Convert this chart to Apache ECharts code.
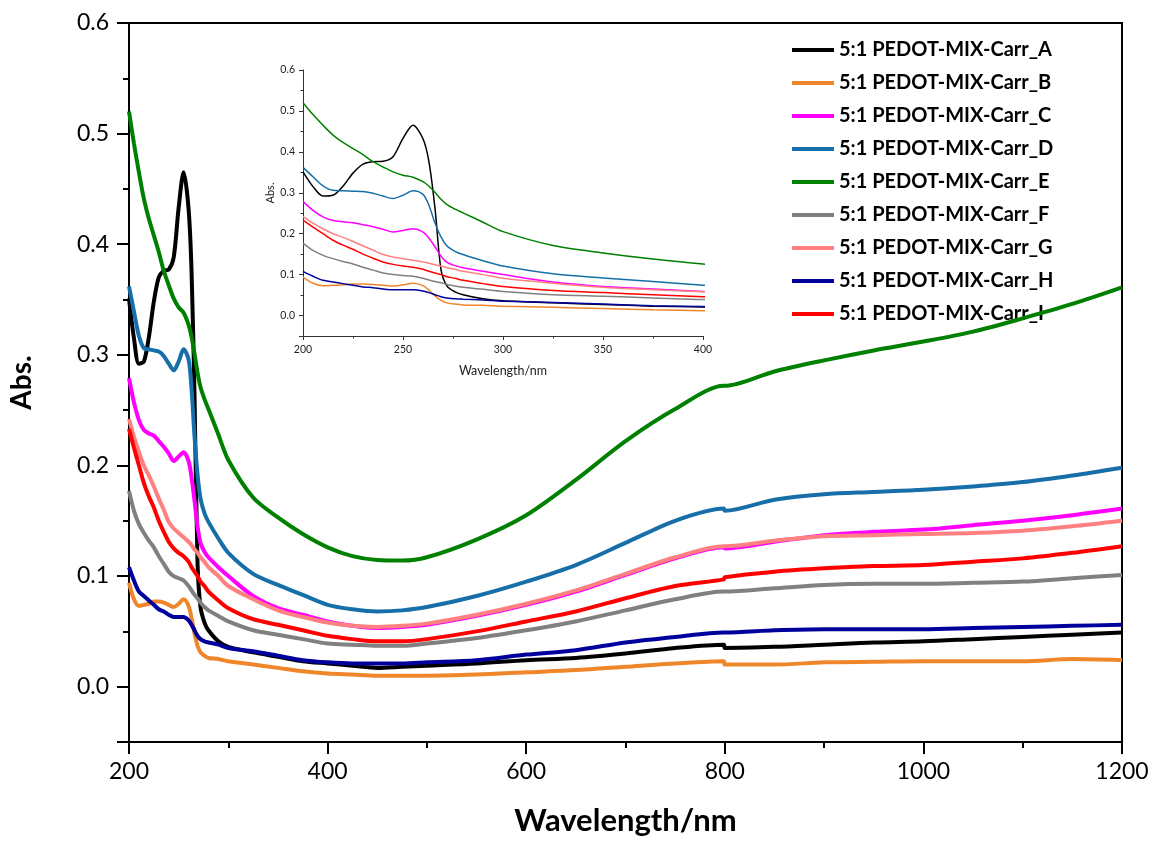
<!DOCTYPE html>
<html>
<head>
<meta charset="utf-8">
<script src="https://cdn.jsdelivr.net/npm/echarts@6/dist/echarts.min.js"></script>
<style>
html,body{margin:0;padding:0;background:#fff;}
#chart{width:1154px;height:841px;}
</style>
</head>
<body>
<div id="chart"></div>
<script>
// Wavelength grid (nm)
const wavelengths = [200,205,210,215,220,225,230,235,240,245,250,255,260,263,266,269,272,276,280,290,300,325,350,375,400,425,450,475,500,550,600,650,700,750,799,800,850,900,950,1000,1050,1100,1150,1200];

// Absorbance values per sample
const absA = [0.351,0.315,0.292,0.294,0.316,0.348,0.370,0.376,0.377,0.388,0.433,0.465,0.432,0.375,0.262,0.112,0.072,0.058,0.051,0.041,0.036,0.031,0.027,0.023,0.021,0.019,0.017,0.018,0.019,0.021,0.024,0.026,0.030,0.035,0.038,0.035,0.036,0.038,0.040,0.041,0.043,0.045,0.047,0.049];
const absB = [0.094,0.079,0.073,0.074,0.075,0.077,0.077,0.076,0.074,0.072,0.075,0.079,0.073,0.062,0.048,0.037,0.031,0.028,0.026,0.025,0.023,0.020,0.017,0.014,0.012,0.011,0.010,0.010,0.010,0.011,0.013,0.015,0.018,0.021,0.023,0.020,0.020,0.022,0.0225,0.023,0.023,0.023,0.025,0.024];
const absC = [0.279,0.257,0.241,0.232,0.229,0.227,0.222,0.217,0.211,0.204,0.208,0.212,0.204,0.189,0.168,0.145,0.130,0.122,0.117,0.108,0.100,0.082,0.071,0.065,0.059,0.055,0.053,0.054,0.056,0.064,0.074,0.086,0.101,0.116,0.126,0.125,0.131,0.137,0.140,0.142,0.146,0.150,0.155,0.161];
const absD = [0.362,0.339,0.317,0.306,0.305,0.304,0.303,0.299,0.292,0.286,0.294,0.305,0.296,0.269,0.226,0.192,0.170,0.157,0.149,0.134,0.121,0.102,0.092,0.083,0.074,0.070,0.068,0.069,0.072,0.082,0.095,0.110,0.130,0.150,0.161,0.159,0.169,0.174,0.176,0.178,0.181,0.185,0.191,0.198];
const absE = [0.520,0.491,0.465,0.441,0.423,0.408,0.393,0.376,0.363,0.351,0.343,0.338,0.327,0.316,0.301,0.284,0.271,0.260,0.251,0.228,0.205,0.171,0.153,0.138,0.126,0.118,0.1145,0.114,0.117,0.133,0.155,0.187,0.222,0.251,0.272,0.272,0.285,0.295,0.304,0.312,0.321,0.333,0.346,0.361];
const absF = [0.177,0.159,0.147,0.139,0.132,0.126,0.118,0.111,0.104,0.100,0.098,0.096,0.091,0.087,0.083,0.080,0.076,0.072,0.069,0.064,0.059,0.051,0.047,0.043,0.039,0.038,0.037,0.037,0.039,0.044,0.051,0.059,0.069,0.079,0.086,0.086,0.089,0.092,0.093,0.093,0.094,0.095,0.098,0.101];
const absG = [0.242,0.226,0.212,0.200,0.191,0.181,0.170,0.160,0.149,0.143,0.139,0.135,0.131,0.128,0.124,0.121,0.117,0.113,0.108,0.100,0.091,0.079,0.069,0.063,0.058,0.055,0.054,0.055,0.057,0.065,0.075,0.087,0.102,0.117,0.127,0.127,0.132,0.136,0.137,0.138,0.139,0.141,0.145,0.150];
const absH = [0.108,0.096,0.086,0.082,0.078,0.074,0.070,0.068,0.065,0.063,0.063,0.063,0.060,0.056,0.051,0.046,0.043,0.041,0.040,0.038,0.035,0.032,0.028,0.024,0.022,0.021,0.021,0.021,0.022,0.024,0.029,0.033,0.040,0.045,0.049,0.049,0.051,0.052,0.052,0.052,0.053,0.054,0.055,0.056];
const absI = [0.233,0.216,0.200,0.184,0.172,0.162,0.150,0.140,0.131,0.125,0.121,0.118,0.113,0.108,0.104,0.100,0.095,0.091,0.086,0.078,0.071,0.061,0.056,0.051,0.046,0.043,0.041,0.041,0.043,0.050,0.059,0.068,0.080,0.091,0.097,0.099,0.104,0.107,0.109,0.110,0.113,0.116,0.121,0.127];

const seriesNames = ['5:1 PEDOT-MIX-Carr_A','5:1 PEDOT-MIX-Carr_B','5:1 PEDOT-MIX-Carr_C','5:1 PEDOT-MIX-Carr_D','5:1 PEDOT-MIX-Carr_E','5:1 PEDOT-MIX-Carr_F','5:1 PEDOT-MIX-Carr_G','5:1 PEDOT-MIX-Carr_H','5:1 PEDOT-MIX-Carr_I'];
const seriesValues = [absA,absB,absC,absD,absE,absF,absG,absH,absI];
const seriesColors = ['#000000','#F0862A','#FF00FF','#176FA9','#008000','#808080','#FF8080','#00009C','#FF0000'];

const FONT = 'Lato, "Open Sans", sans-serif';
const toPairs = vals => wavelengths.map((w,i)=>[w, vals[i]]);

const series = [];
seriesNames.forEach((n,i)=>{
  series.push({name:n,type:'line',xAxisIndex:0,yAxisIndex:0,data:toPairs(seriesValues[i]),
    showSymbol:false,smooth:0.3,lineStyle:{width:4,color:seriesColors[i]},itemStyle:{color:seriesColors[i]},z:2+i});
});
seriesNames.forEach((n,i)=>{
  series.push({name:n,type:'line',xAxisIndex:1,yAxisIndex:1,data:toPairs(seriesValues[i]),
    showSymbol:false,smooth:0.3,clip:true,lineStyle:{width:1.5,color:seriesColors[i]},itemStyle:{color:seriesColors[i]},z:2+i});
});

const plain = v => String(v);
const yFmt = v => (v < -0.001 ? '' : v.toFixed(1));

const chart = echarts.init(document.getElementById('chart'), null, {renderer:'canvas'});
chart.setOption({
  animation:false,
  backgroundColor:'#fff',
  textStyle:{fontFamily:FONT},
  grid:[
    {left:129,top:23,width:993,height:722,show:true,borderColor:'#000',borderWidth:2,backgroundColor:'transparent'},
    {left:303,top:70,width:400,height:266}
  ],
  legend:{
    orient:'vertical',left:787,top:35,icon:'rect',itemWidth:42,itemHeight:4,itemGap:13,
    data:seriesNames,
    textStyle:{fontSize:20,fontWeight:'bold',fontFamily:FONT,color:'#000'}
  },
  xAxis:[
    {type:'value',gridIndex:0,min:200,max:1200,interval:200,
     axisLine:{onZero:false,lineStyle:{color:'#000',width:2}},
     axisTick:{length:12,lineStyle:{color:'#000',width:2}},
     minorTick:{show:true,splitNumber:2,length:6,lineStyle:{color:'#000',width:2}},
     splitLine:{show:false},minorSplitLine:{show:false},
     axisLabel:{formatter:plain,fontSize:23,fontFamily:FONT,color:'#000',margin:18},
     name:'Wavelength/nm',nameLocation:'middle',nameGap:63,
     nameTextStyle:{fontSize:31,fontWeight:'bold',fontFamily:FONT,color:'#000'}},
    {type:'value',gridIndex:1,min:200,max:400,interval:50,
     axisLine:{onZero:false,lineStyle:{color:'#333',width:1}},
     axisTick:{length:4,lineStyle:{color:'#333',width:1}},
     minorTick:{show:true,splitNumber:2,length:2.5,lineStyle:{color:'#333',width:1}},
     splitLine:{show:false},minorSplitLine:{show:false},
     axisLabel:{formatter:plain,fontSize:10.5,fontFamily:FONT,color:'#222',margin:8},
     name:'Wavelength/nm',nameLocation:'middle',nameGap:28,
     nameTextStyle:{fontSize:12.5,fontFamily:FONT,color:'#222'}}
  ],
  yAxis:[
    {type:'value',gridIndex:0,position:'left',min:-0.05,max:0.6,
     axisLine:{show:true,onZero:false,lineStyle:{color:'#000',width:2}},
     axisTick:{show:true,length:12,lineStyle:{color:'#000',width:2}},
     minorTick:{show:true,splitNumber:2,length:6,lineStyle:{color:'#000',width:2}},
     axisLabel:{formatter:yFmt,fontSize:23,fontFamily:FONT,color:'#000',margin:20},
     splitLine:{show:false},minorSplitLine:{show:false},
     name:'Abs.',nameLocation:'middle',nameGap:93,
     nameTextStyle:{fontSize:28,fontWeight:'bold',fontFamily:FONT,color:'#000'}},
    {type:'value',gridIndex:1,position:'left',min:-0.05,max:0.6,
     axisLine:{show:true,onZero:false,lineStyle:{color:'#333',width:1}},
     axisTick:{show:true,length:4,lineStyle:{color:'#333',width:1}},
     minorTick:{show:true,splitNumber:2,length:2.5,lineStyle:{color:'#333',width:1}},
     axisLabel:{formatter:yFmt,fontSize:10.5,fontFamily:FONT,color:'#222',margin:8},
     splitLine:{show:false},minorSplitLine:{show:false},
     name:'Abs.',nameLocation:'middle',nameGap:26,
     nameTextStyle:{fontSize:11,fontFamily:FONT,color:'#222',padding:[0,0,0,20]}}
  ],
  series:series
});
</script>
</body>
</html>
